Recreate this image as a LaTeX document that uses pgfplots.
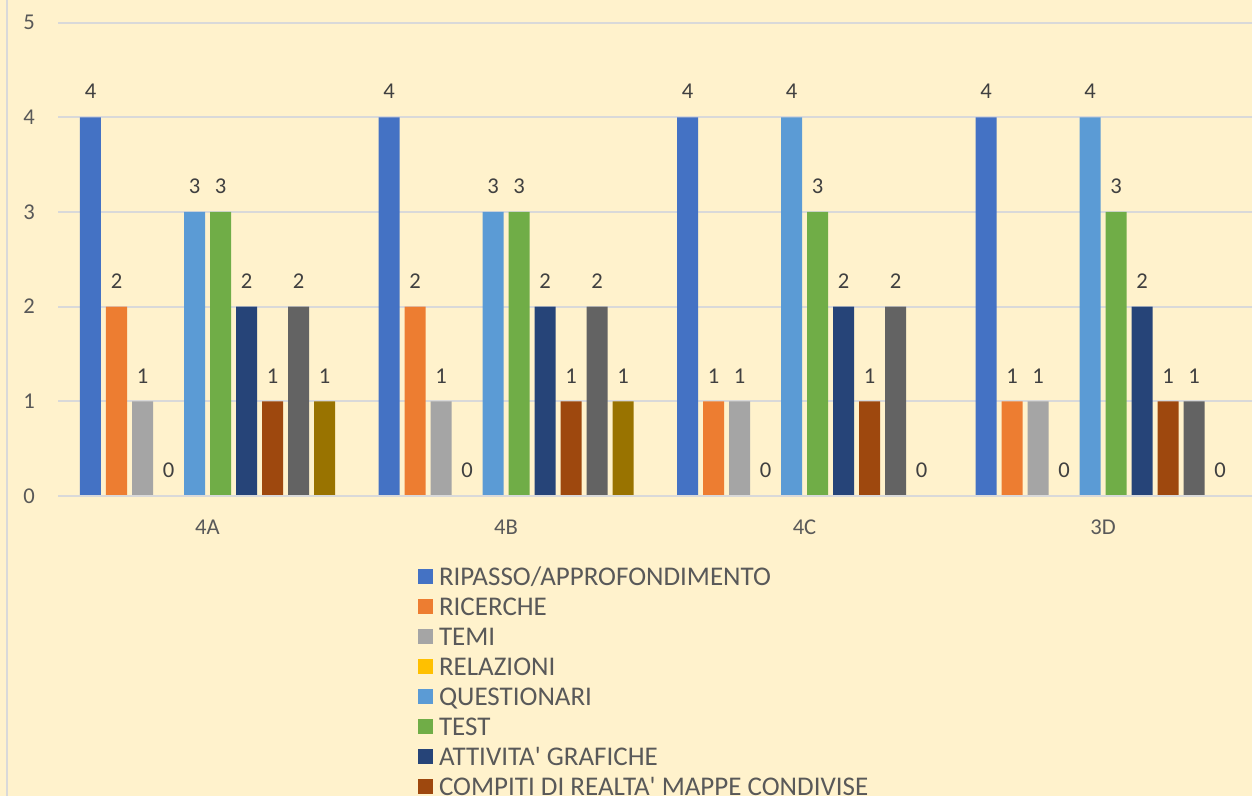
\documentclass[border=0pt]{standalone}
\usepackage{pgfplots}
\pgfplotsset{compat=1.18}
\usepackage{fontspec}
\setmainfont{Carlito}
\definecolor{bg}{HTML}{FFF2CC}
\definecolor{gridc}{HTML}{D9D9D9}
\definecolor{txt}{HTML}{595959}
\definecolor{lbl}{HTML}{404040}
\definecolor{c1}{HTML}{4472C4}
\definecolor{c2}{HTML}{ED7D31}
\definecolor{c3}{HTML}{A5A5A5}
\definecolor{c4}{HTML}{FFC000}
\definecolor{c5}{HTML}{5B9BD5}
\definecolor{c6}{HTML}{70AD47}
\definecolor{c7}{HTML}{264478}
\definecolor{c8}{HTML}{9E480E}
\definecolor{c9}{HTML}{636363}
\definecolor{c10}{HTML}{997300}
\pgfplotsset{/pgf/number format/assume math mode=true}
\begin{document}
\begin{tikzpicture}
\fill[bg] (0,0) rectangle (626pt,398pt);
\path[use as bounding box] (0,0) rectangle (626pt,398pt);
\begin{scope}
\clip (0,0) rectangle (626pt,398pt);
\draw[gridc, line width=1pt] (3.25pt,0) -- (3.25pt,398pt);
\begin{axis}[
  at={(29.125pt,150pt)}, anchor=south west,
  scale only axis, width=597pt, height=236.67pt,
  xmin=-0.5, xmax=3.5, ymin=0, ymax=5,
  ybar=2.5pt, bar width=10.5pt,
  xtick={0,1,2,3}, xticklabels={4A,4B,4C,3D},
  ytick={0,1,2,3,4,5},
  ymajorgrids, grid style={gridc, line width=1pt},
  major tick length=0pt,
  axis line style={draw=none},
  tick label style={font=\fontsize{11.3}{13}\selectfont, text=txt, inner sep=0pt},
  yticklabel style={anchor=east, xshift=-11.5pt},
  xticklabel style={anchor=center, yshift=-15.5pt},
  nodes near coords,
  every node near coord/.append style={font=\fontsize{11.3}{13}\selectfont, text=lbl, anchor=center, inner sep=0pt, yshift=12.8pt},
  legend cell align=left,
  legend style={at={(0.3009,-0.1388)}, anchor=north west, draw=none, fill=none,
    inner sep=0pt, outer sep=0pt, row sep=0pt, column sep=3.25pt,
    font=\fontsize{13.5}{15}\selectfont, text=txt,
    nodes={inner sep=0pt, outer sep=0pt, text height=11.85pt, text depth=3.15pt}},
  legend image code/.code={\fill[#1] (0pt,-3.75pt) rectangle (7.5pt,3.75pt);},
]
\addplot[fill=c1, draw=none] coordinates {(0,4) (1,4) (2,4) (3,4)};
\addplot[fill=c2, draw=none] coordinates {(0,2) (1,2) (2,1) (3,1)};
\addplot[fill=c3, draw=none] coordinates {(0,1) (1,1) (2,1) (3,1)};
\addplot[fill=c4, draw=none] coordinates {(0,0) (1,0) (2,0) (3,0)};
\addplot[fill=c5, draw=none] coordinates {(0,3) (1,3) (2,4) (3,4)};
\addplot[fill=c6, draw=none] coordinates {(0,3) (1,3) (2,3) (3,3)};
\addplot[fill=c7, draw=none] coordinates {(0,2) (1,2) (2,2) (3,2)};
\addplot[fill=c8, draw=none] coordinates {(0,1) (1,1) (2,1) (3,1)};
\addplot[fill=c9, draw=none] coordinates {(0,2) (1,2) (2,2) (3,1)};
\addplot[fill=c10, draw=none] coordinates {(0,1) (1,1) (2,0) (3,0)};
\addlegendentry{RIPASSO/APPROFONDIMENTO}
\addlegendentry{RICERCHE}
\addlegendentry{TEMI}
\addlegendentry{RELAZIONI}
\addlegendentry{QUESTIONARI}
\addlegendentry{TEST}
\addlegendentry{ATTIVITA\textquotesingle{} GRAFICHE}
\addlegendentry{COMPITI DI REALTA\textquotesingle{} MAPPE CONDIVISE}
\draw[gridc, line width=1pt] (rel axis cs:0,0) -- (rel axis cs:1,0);
\end{axis}
\end{scope}
\end{tikzpicture}
\end{document}
